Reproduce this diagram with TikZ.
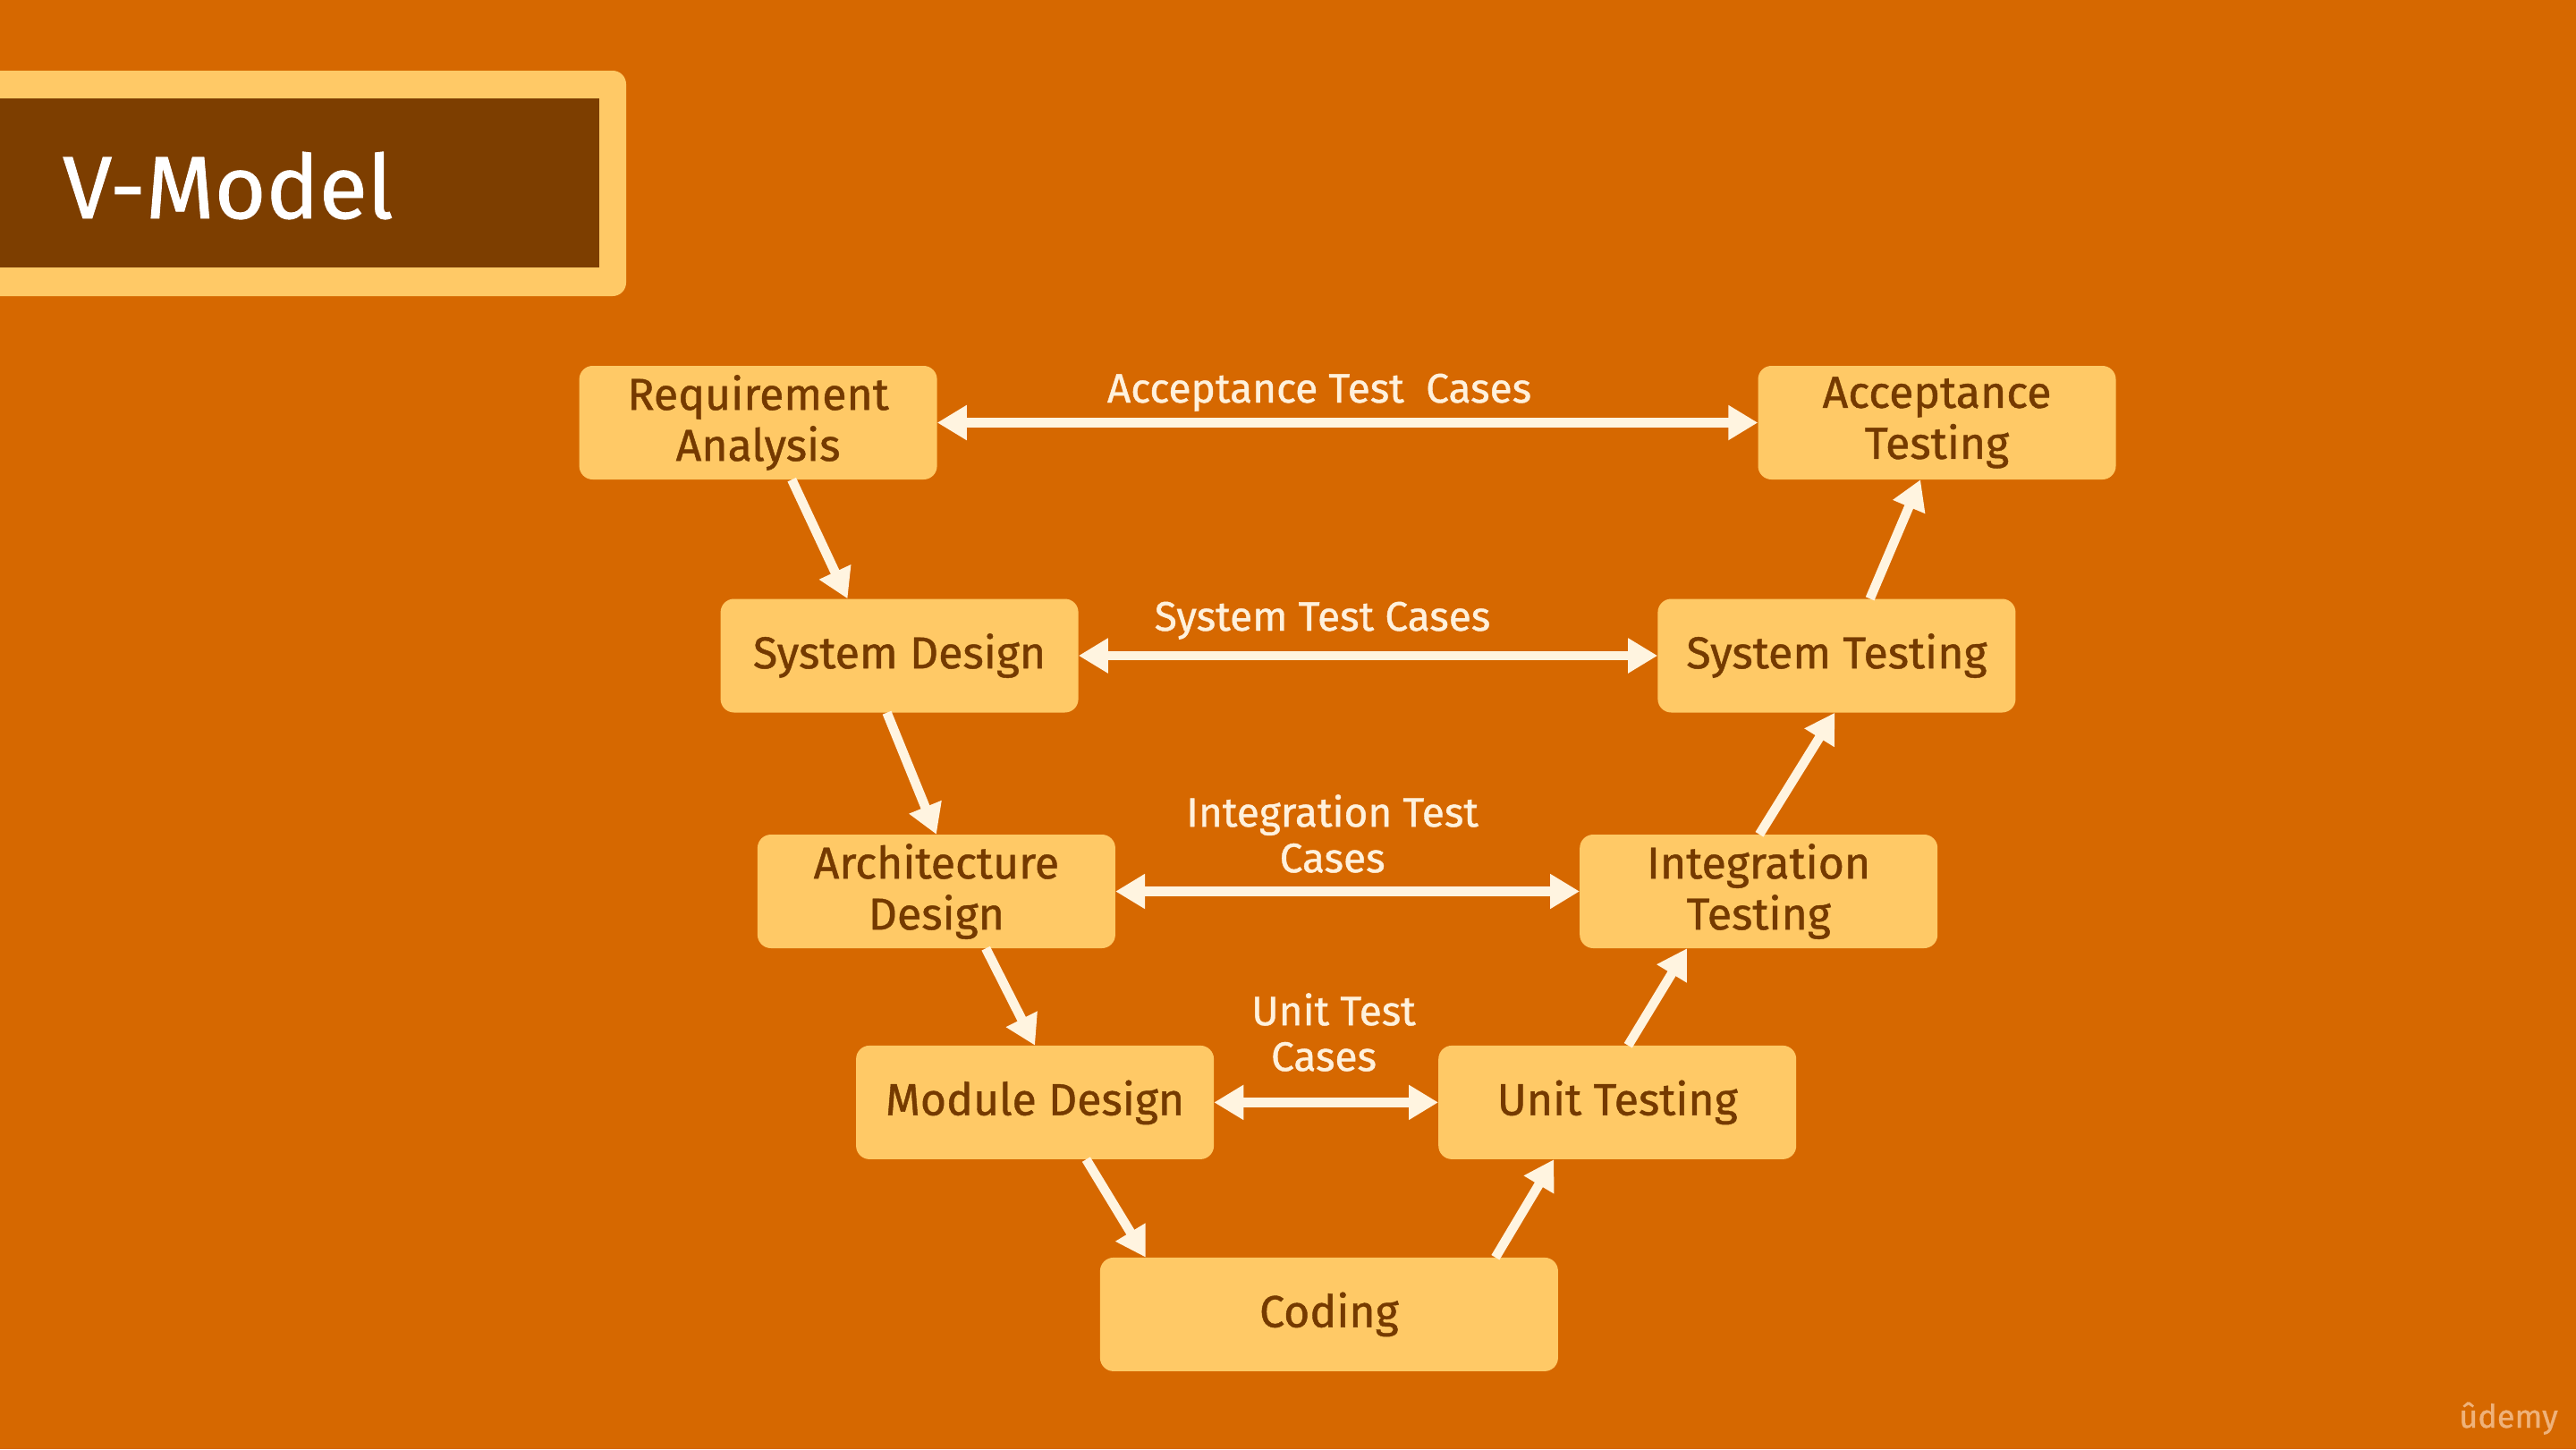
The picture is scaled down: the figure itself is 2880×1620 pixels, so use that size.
\documentclass[tikz,border=0pt]{standalone}
\usepackage{fontspec}
\setmainfont{Fira Sans}
\newfontfamily\heavyfont{Fira Sans}[FakeBold=0.9]
\usetikzlibrary{arrows.meta,calc}
\definecolor{bg}{HTML}{D66800}
\definecolor{boxfill}{HTML}{FFC966}
\definecolor{boxtext}{HTML}{753A00}
\definecolor{titlebg}{HTML}{7D3E00}
\definecolor{arrowc}{HTML}{FFF4E0}
\definecolor{labelc}{HTML}{FFF1DC}
\definecolor{logoc}{HTML}{EFB27A}
\begin{document}
\begin{tikzpicture}[x=1pt,y=-1pt,
  stage/.style={draw=none, fill=boxfill, rounded corners=15pt, minimum width=400pt, minimum height=127pt, inner sep=0pt, align=center, text=boxtext, font=\heavyfont\fontsize{50}{57}\selectfont},
  flow/.style={draw=arrowc, line width=10.5pt, -{Triangle[length=33pt,width=37pt]}},
  both/.style={draw=arrowc, line width=10.5pt, {Triangle[length=33pt,width=37pt]}-{Triangle[length=33pt,width=37pt]}},
  lbl/.style={text=labelc, align=center, font=\heavyfont\fontsize{46}{51}\selectfont, inner sep=0pt}
]
\fill[bg] (0,0) rectangle (2880,1620);
\useasboundingbox (0,0) rectangle (2880,1620);
% title
\fill[boxfill, rounded corners=15pt] (-40,79) rectangle (700,331);
\fill[titlebg] (-10,110) rectangle (670,299);
\node[anchor=base west, text=white, font=\heavyfont\fontsize{99}{110}\selectfont, inner sep=0pt] (title) at (70,244) {V-Model};
% stages
\node[stage] (ra) at (847.6,472.5) {Requirement\\Analysis};
\node[stage] (at) at (2165.5,472.5) {Acceptance\\Testing};
\node[stage] (sd) at (1005.6,733) {System Design};
\node[stage] (st) at (2053.4,733) {System Testing};
\node[stage] (ad) at (1046.9,996.5) {Architecture\\Design};
\node[stage] (it) at (1966.2,996.5) {Integration\\Testing};
\node[stage] (md) at (1157.1,1232.4) {Module Design};
\node[stage] (ut) at (1808.2,1232.4) {Unit Testing};
\node[stage, minimum width=512pt] (co) at (1485.9,1469.4) {Coding};
% horizontal links
\draw[both] (ra.east) -- (at.west);
\draw[both] (sd.east) -- (st.west);
\draw[both] (ad.east) -- (it.west);
\draw[both] (md.east) -- (ut.west);
% labels
\node[lbl, anchor=base] (lacc) at (1475,450) {Acceptance Test\ \ Cases};
\node[lbl, anchor=base] (lsys) at (1478.5,705) {System Test Cases};
\node[lbl] (lint) at (1489.6,932) {Integration Test\\Cases};
\node[lbl] (lunit) at (1491,1154) {Unit Test\\Cases\hspace*{22pt}};
% V flow
\draw[flow] ($(ra.south west)!0.594!(ra.south east)$) -- ($(sd.north west)!0.355!(sd.north east)$);
\draw[flow] ($(sd.south west)!0.465!(sd.south east)$) -- ($(ad.north west)!0.50!(ad.north east)$);
\draw[flow] ($(ad.south west)!0.638!(ad.south east)$) -- ($(md.north west)!0.50!(md.north east)$);
\draw[flow] ($(md.south west)!0.643!(md.south east)$) -- ($(co.north west)!0.10!(co.north east)$);
\draw[flow] ($(co.north west)!0.863!(co.north east)$) -- ($(ut.south west)!0.323!(ut.south east)$);
\draw[flow] ($(ut.north west)!0.53!(ut.north east)$) -- ($(it.south west)!0.30!(it.south east)$);
\draw[flow] ($(it.north west)!0.502!(it.north east)$) -- ($(st.south west)!0.495!(st.south east)$);
\draw[flow] ($(st.north west)!0.593!(st.north east)$) -- ($(at.south west)!0.454!(at.south east)$);
% watermark
\node[anchor=base east, text=logoc, font=\heavyfont\fontsize{36}{36}\selectfont, inner sep=0pt] (logo) at (2860,1596) {ûdemy};
\end{tikzpicture}
\end{document}
